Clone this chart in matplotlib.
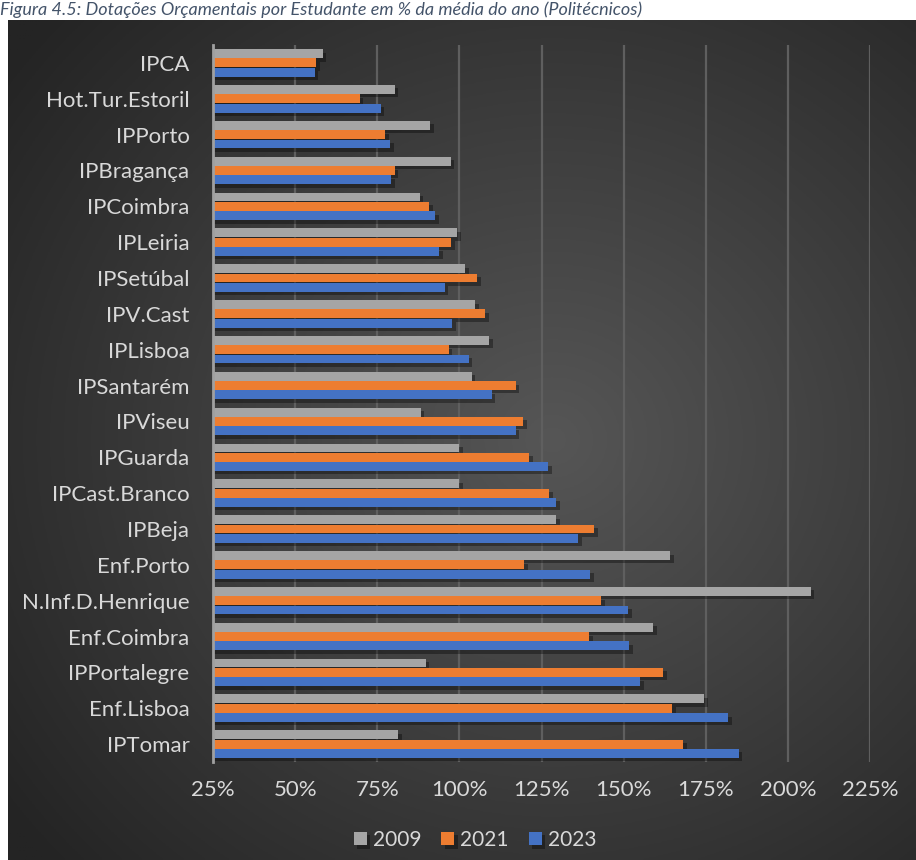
import numpy as np
import matplotlib.pyplot as plt
import matplotlib.patheffects as pe

# Dados (% da média do ano), de cima para baixo
instituicoes = ['IPCA', 'Hot.Tur.Estoril', 'IPPorto', 'IPBragança', 'IPCoimbra',
                'IPLeiria', 'IPSetúbal', 'IPV.Cast', 'IPLisboa', 'IPSantarém',
                'IPViseu', 'IPGuarda', 'IPCast.Branco', 'IPBeja', 'Enf.Porto',
                'N.Inf.D.Henrique', 'Enf.Coimbra', 'IPPortalegre', 'Enf.Lisboa', 'IPTomar']
v2009 = [58.4, 80.3, 91.2, 97.3, 87.9, 99.4, 101.8, 104.9, 109.1, 103.7,
         88.2, 100.0, 100.0, 129.5, 164.2, 207.0, 159.0, 89.7, 174.6, 81.4]
v2021 = [56.5, 69.6, 77.5, 80.3, 90.9, 97.6, 105.5, 107.9, 96.7, 117.1,
         119.5, 121.3, 127.4, 141.1, 119.8, 143.2, 139.6, 162.1, 164.8, 168.1]
v2023 = [55.9, 76.0, 79.0, 79.3, 92.7, 93.9, 95.6, 97.9, 102.8, 109.8,
         117.1, 127.1, 129.5, 136.2, 139.8, 151.4, 151.7, 155.0, 181.8, 185.1]
anos = ['2009', '2021', '2023']
cores = ['#A5A5A5', '#ED7D31', '#4472C4']
xticks = [25, 50, 75, 100, 125, 150, 175, 200, 225]

plt.rcParams['font.family'] = ['Lato', 'DejaVu Sans']

W, H = 916, 860
fig = plt.figure(figsize=(W / 100, H / 100), dpi=100)

# Fundo escuro com gradiente radial
bg = fig.add_axes([8 / W, 0, 1 - 8 / W, 840 / H])
yy, xx = np.mgrid[0:1:300j, 0:1:300j]
r = np.sqrt((xx - 0.6) ** 2 + (yy - 0.5) ** 2)
grad = np.clip(r / 0.75, 0, 1)
c_in = np.array([0x56, 0x56, 0x56]) / 255
c_out = np.array([0x24, 0x24, 0x24]) / 255
img = c_in[None, None, :] * (1 - grad[..., None]) + c_out[None, None, :] * grad[..., None]
bg.imshow(img, aspect='auto', extent=[0, 1, 0, 1])
bg.axis('off')

ax = fig.add_axes([213 / W, (H - 762) / H, 657 / W, 717 / H])
ax.set_facecolor('none')

y = np.arange(len(instituicoes))
h = 0.26
sombra = [pe.SimplePatchShadow(offset=(2.5, -2.5), alpha=0.35, shadow_rgbFace='black'), pe.Normal()]
for i, (vals, cor, ano) in enumerate(zip([v2009, v2021, v2023], cores, anos)):
    ax.barh(y + (i - 1) * h, vals, height=h * 0.95, color=cor, label=ano,
            zorder=3, path_effects=sombra)

ax.set_xlim(25, 225)
ax.set_ylim(len(instituicoes) - 0.5, -0.5)
ax.set_xticks(xticks)
ax.set_xticklabels([f'{t}%' for t in xticks])
ax.set_yticks(y)
ax.set_yticklabels(instituicoes)
ax.tick_params(axis='y', length=0, pad=17, labelsize=16, labelcolor='#D9D9D9')
ax.tick_params(axis='x', length=0, pad=13, labelsize=16, labelcolor='#D9D9D9')
ax.grid(axis='x', color='#5f5f5f', linewidth=1.6, zorder=0)
ax.set_axisbelow(True)
for s in ['top', 'right', 'bottom']:
    ax.spines[s].set_visible(False)
ax.spines['left'].set_color('#A0A0A0')
ax.spines['left'].set_linewidth(2)
ax.spines['left'].set_zorder(4)

fig.legend(loc='center', bbox_to_anchor=(475 / W, 20 / H), ncol=3, frameon=False,
           fontsize=15, labelcolor='#D9D9D9', handlelength=0.62, handleheight=0.62,
           handletextpad=0.3, columnspacing=0.95)

fig.text(0.0, (H - 15) / H, 'Figura 4.5: Dotações Orçamentais por Estudante em % da média do ano (Politécnicos)',
         fontsize=13, fontstyle='italic', color='#44546A', va='baseline', ha='left')

fig.savefig('out.png', dpi=100)
